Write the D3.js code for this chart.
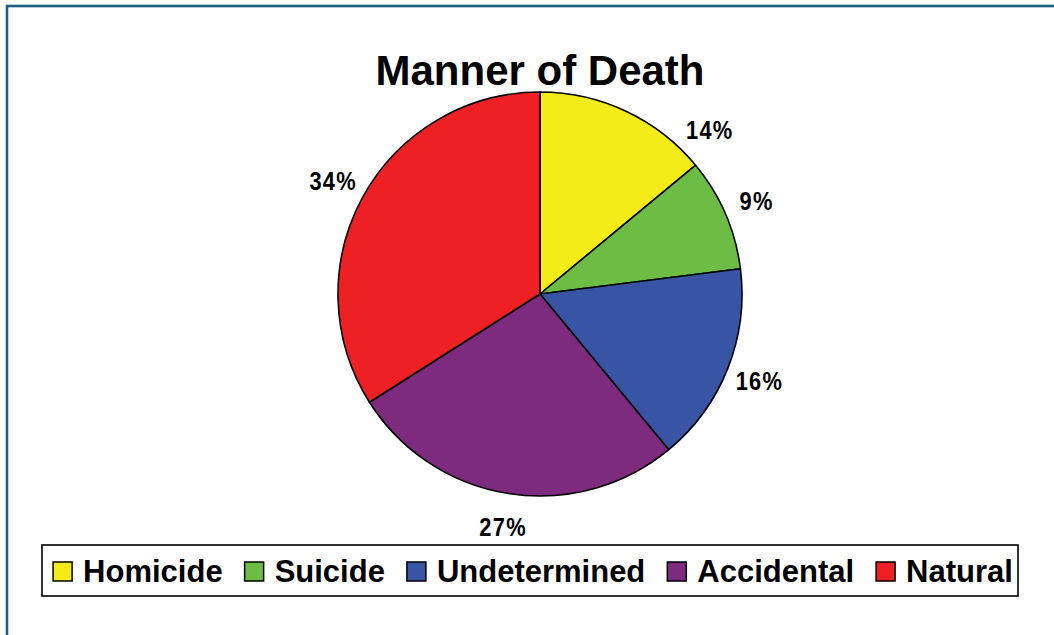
<!DOCTYPE html>
<html>
<head>
<meta charset="utf-8">
<script src="https://cdn.jsdelivr.net/npm/d3@7"></script>
<style>
  html, body { margin: 0; padding: 0; background: #fff; }
  svg { display: block; }
</style>
</head>
<body>
<svg id="chart" width="1054" height="635"></svg>
<script>
// ---- data ----
const categories = ["Homicide", "Suicide", "Undetermined", "Accidental", "Natural"];
const values = [14, 9, 16, 27, 34];
const labels = ["14%", "9%", "16%", "27%", "34%"];
const colors = ["#f3ec19", "#6dbd45", "#3a54a5", "#7e2a7e", "#ee2024"];
const title = "Manner of Death";

// ---- layout ----
const W = 1054, H = 635;
const cx = 540, cy = 294, R = 202;
const labelR = 236;
// Homicide label was moved clockwise to clear the title
const labelAngleOverrideDeg = { Homicide: 46 };

const svg = d3.select("#chart");

// outer frame
svg.append("rect")
  .attr("x", 7).attr("y", 6)
  .attr("width", W + 20).attr("height", H + 20)
  .attr("fill", "none")
  .attr("stroke", "#1c6080")
  .attr("stroke-width", 2.6);

// title
svg.append("text")
  .attr("x", cx).attr("y", 85)
  .attr("text-anchor", "middle")
  .attr("font-family", "'Liberation Sans', Arial, sans-serif")
  .attr("font-weight", "bold")
  .attr("font-size", 42)
  .attr("fill", "#000")
  .text(title);

const data = categories.map((c, i) => ({ name: c, value: values[i], label: labels[i], color: colors[i] }));

const pie = d3.pie().value(d => d.value).sort(null);
const arcs = pie(data);
const arc = d3.arc().innerRadius(0).outerRadius(R);

const g = svg.append("g").attr("transform", `translate(${cx},${cy})`);

g.selectAll("path.slice")
  .data(arcs)
  .join("path")
  .attr("class", "slice")
  .attr("d", arc)
  .attr("fill", d => d.data.color)
  .attr("stroke", "#000")
  .attr("stroke-width", 1.6)
  .attr("stroke-linejoin", "round");

// percent labels (condensed look via horizontal scaling)
function labelAngle(d) {
  return labelAngleOverrideDeg[d.data.name] !== undefined
    ? labelAngleOverrideDeg[d.data.name] * Math.PI / 180
    : (d.startAngle + d.endAngle) / 2;
}
g.selectAll("text.lbl")
  .data(arcs)
  .join("text")
  .attr("class", "lbl")
  .attr("transform", d => {
    const a = labelAngle(d);
    return `translate(${labelR * Math.sin(a)},${-labelR * Math.cos(a)}) scale(0.84,1)`;
  })
  .attr("dy", "0.36em")
  .attr("text-anchor", "middle")
  .attr("font-family", "'Liberation Sans', Arial, sans-serif")
  .attr("font-weight", "bold")
  .attr("font-size", 26)
  .attr("letter-spacing", 1.5)
  .attr("fill", "#000")
  .text(d => d.data.label);

// legend
const legBox = { x: 42, y: 545, w: 976, h: 51 };
svg.append("rect")
  .attr("x", legBox.x).attr("y", legBox.y)
  .attr("width", legBox.w).attr("height", legBox.h)
  .attr("fill", "#fff")
  .attr("stroke", "#000")
  .attr("stroke-width", 1.6);

const sw = 19, swGap = 11, itemGap = 22;
const leg = svg.append("g");
const items = leg.selectAll("g.item").data(data).join("g").attr("class", "item");
items.append("rect")
  .attr("width", sw).attr("height", sw)
  .attr("y", 562)
  .attr("fill", d => d.color)
  .attr("stroke", "#000")
  .attr("stroke-width", 1.5);
items.append("text")
  .attr("y", 582)
  .attr("font-family", "'Liberation Sans', Arial, sans-serif")
  .attr("font-weight", "bold")
  .attr("font-size", 31)
  .attr("fill", "#000")
  .text(d => d.name);

// position legend items
let widths = [];
items.select("text").each(function () { widths.push(this.getComputedTextLength()); });
const total = d3.sum(widths) + data.length * (sw + swGap) + (data.length - 1) * itemGap;
let xpos = legBox.x + (legBox.w - total) / 2 + 3;
items.each(function (d, i) {
  const it = d3.select(this);
  it.select("rect").attr("x", xpos);
  it.select("text").attr("x", xpos + sw + swGap);
  xpos += sw + swGap + widths[i] + itemGap;
});
</script>
</body>
</html>
